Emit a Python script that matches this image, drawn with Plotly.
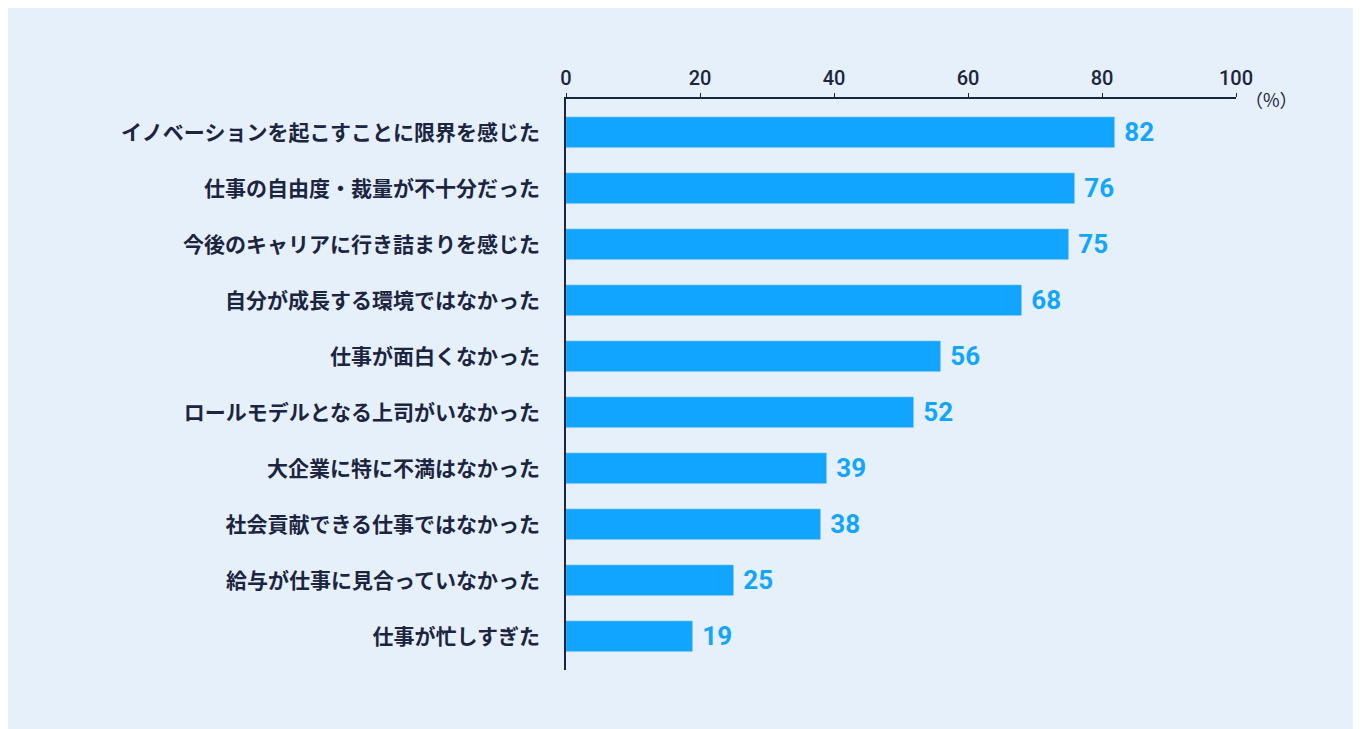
import plotly.graph_objects as go

reasons = ["イノベーションを起こすことに限界を感じた", "仕事の自由度・裁量が不十分だった",
           "今後のキャリアに行き詰まりを感じた", "自分が成長する環境ではなかった",
           "仕事が面白くなかった", "ロールモデルとなる上司がいなかった",
           "大企業に特に不満はなかった", "社会貢献できる仕事ではなかった",
           "給与が仕事に見合っていなかった", "仕事が忙しすぎた"]
values = [82, 76, 75, 68, 56, 52, 39, 38, 25, 19]

bg = "#E6F0FB"
blue = "#12A5FF"
navy = "#1C2540"
font = "Noto Sans CJK JP"

fig = go.Figure(go.Bar(
    x=values, y=reasons, orientation="h", width=0.54,
    marker_color=blue, text=[" " + str(v) for v in values], textposition="outside",
    textfont=dict(color=blue, size=26, family="Roboto", weight="bold"),
    cliponaxis=False,
))

fig.update_layout(
    width=1361, height=729, paper_bgcolor=bg, plot_bgcolor=bg,
    margin=dict(l=558, r=133, t=91, b=67),
    showlegend=False, bargap=0,
    font=dict(family=font, color=navy),
    xaxis=dict(range=[0, 100], side="top", tickvals=[0, 20, 40, 60, 80, 100],
               showgrid=False, zeroline=False, showline=True, linecolor=navy,
               linewidth=1.5, ticks="outside", ticklen=4, tickcolor=navy,
               tickfont=dict(size=20, family="Roboto", color=navy, weight=500)),
    yaxis=dict(autorange=False, range=[9.6, -0.6], showgrid=False,
               zeroline=False, showline=True, linecolor=navy, linewidth=1.5,
               ticks="", ticklabelstandoff=20,
               tickfont=dict(size=21, family=font, color=navy, weight="bold")),
)
fig.add_annotation(x=1.01, y=1, xref="paper", yref="paper", text="（%）",
                   showarrow=False, xanchor="left", yanchor="middle",
                   font=dict(size=18, color=navy))

fig.write_html("out.html")
